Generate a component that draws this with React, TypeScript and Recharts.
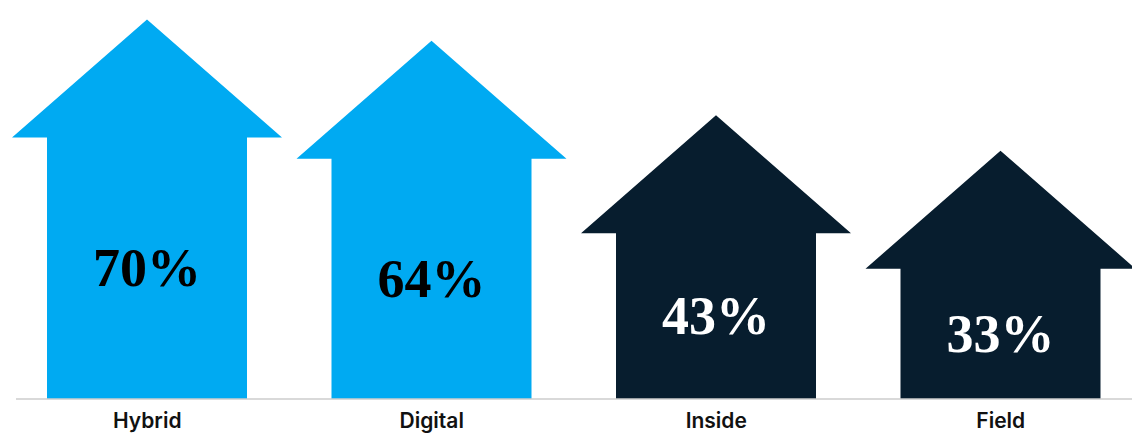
import { BarChart, Bar, XAxis, YAxis, Cell, LabelList } from "recharts";

const categories = ["Hybrid", "Digital", "Inside", "Field"];
const values = [70, 64, 43, 33];

const BLUE = "#00AAF2";
const NAVY = "#071D2E";
const fills = [BLUE, BLUE, NAVY, NAVY];
const textFills = ["#000000", "#000000", "#ffffff", "#ffffff"];

const BASELINE = 399;

const data = categories.map((name, i) => ({ name, value: values[i] }));

// arrow: shaft is the bar width, head a bit wider
function Arrow(props: any) {
  const { x, y, width, index } = props;
  const cx = x + width / 2;
  const half = width / 2;
  const headHalf = width * 0.675;
  const headH = width * 0.59;
  const sy = y + headH;
  const pts = [
    [cx, y],
    [cx + headHalf, sy],
    [cx + half, sy],
    [cx + half, BASELINE],
    [cx - half, BASELINE],
    [cx - half, sy],
    [cx - headHalf, sy],
  ]
    .map((p) => p.join(","))
    .join(" ");
  return <polygon points={pts} fill={fills[index]} />;
}

function PctLabel(props: any) {
  const { x, y, width, value, index } = props;
  const sy = y + width * 0.59;
  return (
    <text
      x={x + width / 2}
      y={(sy + BASELINE) / 2}
      textAnchor="middle"
      dominantBaseline="central"
      fill={textFills[index]}
      style={{
        fontFamily: "'Liberation Serif', 'DejaVu Serif', serif",
        fontWeight: 700,
        fontSize: 54,
      }}
    >
      {value}%
    </text>
  );
}

export default function App() {
  return (
    <div
      style={{
        position: "absolute",
        left: 0,
        top: 0,
        width: 1132,
        height: 433,
        overflow: "hidden",
        background: "#fff",
      }}
    >
      <BarChart
        width={1143}
        height={433}
        data={data}
        margin={{ top: 0, right: 0, left: 16, bottom: 4 }}
        barSize={200}
      >
        <XAxis
          dataKey="name"
          height={30}
          padding={{ left: -11, right: 0 }}
          axisLine={{ stroke: "#cccccc", strokeWidth: 1.5 }}
          tickLine={false}
          tickMargin={8}
          tick={{
            fill: "#111111",
            fontSize: 21,
            fontWeight: 600,
            fontFamily: "Inter, 'Liberation Sans', sans-serif",
          }}
        />
        <YAxis hide type="number" domain={[-37, 75.5]} />
        <Bar dataKey="value" shape={<Arrow />} isAnimationActive={false}>
          {data.map((d, i) => (
            <Cell key={d.name} fill={fills[i]} />
          ))}
          <LabelList dataKey="value" content={<PctLabel />} />
        </Bar>
      </BarChart>
    </div>
  );
}
